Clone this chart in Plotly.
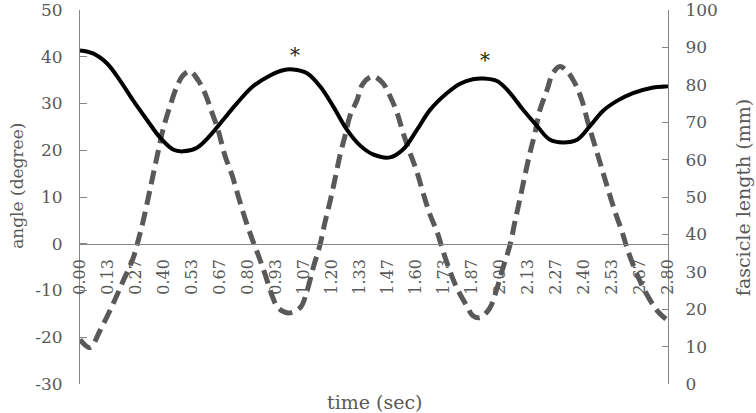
import plotly.graph_objects as go

# ---- data ----
tick_labels = ["0.00", "0.13", "0.27", "0.40", "0.53", "0.67", "0.80", "0.93",
               "1.07", "1.20", "1.33", "1.47", "1.60", "1.73", "1.87", "2.00",
               "2.13", "2.27", "2.40", "2.53", "2.67", "2.80"]
tick_times = [i * 2.8 / 21 for i in range(22)]

angle_ticks = [-30, -20, -10, 0, 10, 20, 30, 40, 50]
angle_tick_text = ["-30", "-20", "-10", "0", "10", "20", "30", "40", "50"]
length_ticks = [0, 10, 20, 30, 40, 50, 60, 70, 80, 90, 100]

angle_time = [0.0, 0.048, 0.095, 0.157, 0.205, 0.252, 0.276, 0.3, 0.324, 0.348,
              0.371, 0.395, 0.429, 0.462, 0.49, 0.524, 0.562, 0.595, 0.629, 0.657,
              0.69, 0.724, 0.752, 0.786, 0.819, 0.848, 0.881, 0.919, 0.943, 0.99,
              1.048, 1.081, 1.11, 1.143, 1.167, 1.19, 1.214, 1.238, 1.262, 1.286,
              1.319, 1.348, 1.395, 1.443, 1.476, 1.51, 1.538, 1.571, 1.605, 1.633,
              1.667, 1.7, 1.729, 1.762, 1.795, 1.843, 1.871, 1.905, 1.952, 1.986,
              2.014, 2.048, 2.071, 2.095, 2.119, 2.143, 2.167, 2.19, 2.224, 2.252,
              2.286, 2.319, 2.357, 2.39, 2.419, 2.452, 2.486, 2.514, 2.548, 2.581,
              2.61, 2.652, 2.69, 2.748, 2.8]
angle_deg = [-20.5, -22.2, -18.6, -12.9, -8.0, -3.2, 0.5, 4.7, 9.6, 14.7,
             19.5, 24.4, 29.5, 33.7, 36.0, 36.9, 35.0, 32.2, 28.0, 24.4,
             18.9, 14.7, 10.4, 5.4, 1.1, -2.3, -6.5, -11.6, -13.7, -14.8,
             -13.7, -10.1, -5.2, -0.2, 4.7, 8.9, 13.8, 18.9, 23.1, 27.4,
             30.7, 34.3, 35.8, 34.3, 31.6, 28.0, 23.8, 19.5, 15.3, 11.0,
             6.2, 2.6, -1.6, -5.9, -9.5, -13.4, -15.4, -15.8, -13.7, -9.5,
             -5.2, -0.2, 4.7, 9.6, 14.7, 19.5, 23.8, 28.6, 32.9, 36.5,
             37.9, 36.9, 34.3, 30.7, 25.9, 21.0, 15.9, 11.7, 6.8, 2.6,
             -1.6, -6.5, -10.1, -14.3, -16.5]

length_time = [0.0, 0.062, 0.129, 0.19, 0.252, 0.319, 0.381, 0.443, 0.49, 0.557,
               0.619, 0.681, 0.748, 0.824, 0.905, 0.967, 1.014, 1.081, 1.143, 1.205,
               1.271, 1.333, 1.395, 1.476, 1.538, 1.605, 1.667, 1.748, 1.81, 1.871,
               1.919, 1.986, 2.048, 2.11, 2.176, 2.238, 2.3, 2.367, 2.429, 2.49,
               2.557, 2.633, 2.714, 2.8]
length_mm = [89.2, 88.4, 85.7, 81.2, 75.9, 70.6, 65.9, 62.7, 62.2, 63.2,
             66.4, 70.6, 75.1, 79.6, 82.5, 83.9, 84.1, 83.1, 79.6, 74.3,
             68.0, 63.8, 61.4, 60.6, 62.7, 68.0, 73.3, 77.8, 80.3, 81.5,
             81.7, 81.0, 77.8, 73.3, 69.0, 65.3, 64.6, 65.3, 69.0, 73.0,
             75.7, 77.8, 79.1, 79.6]

star_time = [1.024, 1.929]
star_length = [88.1, 86.7]

FONT = "DejaVu Serif"
GRAY = "#595959"
AXIS = "#868686"

fig = go.Figure()
fig.add_trace(go.Scatter(
    x=angle_time, y=angle_deg, mode="lines", yaxis="y",
    line=dict(color="#595959", width=5, dash="14px,7px", shape="spline", smoothing=1.0),
    showlegend=False, hoverinfo="skip"))
fig.add_trace(go.Scatter(
    x=length_time, y=length_mm, mode="lines", yaxis="y2",
    line=dict(color="#000000", width=4, shape="spline", smoothing=1.0),
    showlegend=False, hoverinfo="skip"))

annotations = []
for t, v in zip(star_time, star_length):
    annotations.append(dict(x=t, y=v, xref="x", yref="y2", text="*", showarrow=False,
                            xanchor="center", yanchor="middle",
                            font=dict(family=FONT, size=20, color="#222222")))
annotations += [
    dict(x=-0.107, y=0.53, xref="paper", yref="paper", text="angle (degree)",
         textangle=-90, showarrow=False, xanchor="center", yanchor="middle",
         font=dict(family=FONT, size=17, color=GRAY)),
    dict(x=1.1276, y=0.497, xref="paper", yref="paper", text="fascicle length (mm)",
         textangle=-90, showarrow=False, xanchor="center", yanchor="middle",
         font=dict(family=FONT, size=19, color=GRAY)),
    dict(x=0.5, y=-0.048, xref="paper", yref="paper", text="time (sec)",
         showarrow=False, xanchor="center", yanchor="middle",
         font=dict(family=FONT, size=19, color=GRAY)),
]

fig.update_layout(
    width=756, height=413,
    margin=dict(l=80, r=88, t=10, b=29, autoexpand=False),
    paper_bgcolor="white", plot_bgcolor="white",
    font=dict(family=FONT, color=GRAY),
    xaxis=dict(range=[0, 2.8], tickmode="array", tickvals=tick_times, ticktext=tick_labels,
               tickangle=-90, tickfont=dict(family=FONT, size=16, color=GRAY),
               showgrid=False, zeroline=False, showline=True, linecolor=AXIS, linewidth=1,
               ticks="", anchor="free", position=0.375, ticklabelstandoff=8,
               automargin=False, ticklabeloverflow="allow"),
    yaxis=dict(range=[-30, 50], tickmode="array", tickvals=angle_ticks,
               ticktext=angle_tick_text, showgrid=False, zeroline=False,
               showline=True, linecolor=AXIS, linewidth=1, ticks="inside", ticklen=7,
               tickcolor=AXIS, tickfont=dict(family=FONT, size=17, color=GRAY),
               ticklabelstandoff=13, automargin=False, ticklabeloverflow="allow"),
    yaxis2=dict(range=[0, 100], tickmode="array", tickvals=length_ticks,
                overlaying="y", side="right",
                showgrid=False, zeroline=False, showline=True, linecolor=AXIS, linewidth=1,
                ticks="inside", ticklen=6, tickcolor=AXIS,
                tickfont=dict(family=FONT, size=17, color=GRAY), ticklabelstandoff=13,
                automargin=False, ticklabeloverflow="allow"),
    annotations=annotations,
)

fig.write_html(
    "out.html",
    config={"displayModeBar": False, "staticPlot": True},
    post_script="document.body.style.margin='0';document.body.style.padding='0';"
                "document.documentElement.style.overflow='hidden';",
)
